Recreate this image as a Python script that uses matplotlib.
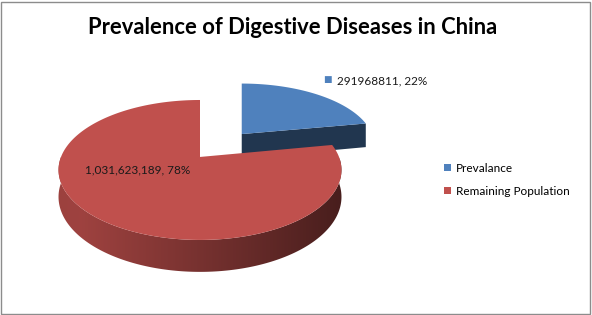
import numpy as np
import matplotlib
matplotlib.use("Agg")
import matplotlib.pyplot as plt
from matplotlib.patches import Patch, Rectangle, Polygon
from matplotlib.colors import to_rgb

# data
categories = ['Prevalance', 'Remaining Population']
values = [291968811, 1031623189]
use_commas = [False, True]
colors = ['#4F81BD', '#C0504D']
explode = [0.47, 0.0]

plt.rcParams['font.family'] = ['Lato', 'DejaVu Sans']

W, H = 592, 315
fig = plt.figure(figsize=(W / 100, H / 100), dpi=100)

ax = fig.add_axes([12.35 / W, 26 / H, 375.3 / W, 236.3 / H])
# let pie work out the slice angles / explode offsets, then redraw them in 3D
wedges, _ = ax.pie(values, colors=colors, startangle=90, counterclock=False,
                   explode=explode, wedgeprops=dict(linewidth=0))

k = 0.186      # perspective strength
tilt = 0.486   # vertical squash of the ground plane
depth = 0.187  # thickness


def proj(x, y, z, xc):
    s = 1.0 / (1.0 + k * y)
    return xc + (x - xc) * s, y * s * tilt - depth * (1 - z) * s


def shade(base, f):
    r, g, b = to_rgb(base)
    return (min(r * f, 1), min(g * f, 1), min(b * f, 1))


def rim_factor(X):
    return 0.62 - 0.24 * X - 0.3 * max(0.0, -0.85 - X)


order = sorted(range(len(wedges)), key=lambda i: -explode[i])
zc = 1
for i in order:
    w = wedges[i]
    cx, cy = w.center
    t1, t2 = np.radians(w.theta1), np.radians(w.theta2)
    w.remove()
    ts = np.linspace(t1, t2, 400)

    # radial cut faces
    for ang, normal in [(t1, t1 - np.pi / 2), (t2, t2 + np.pi / 2)]:
        if np.sin(normal) < -0.01:
            ex, ey = cx + np.cos(ang), cy + np.sin(ang)
            pts = [proj(cx, cy, 1, cx), proj(ex, ey, 1, cx), proj(ex, ey, 0, cx), proj(cx, cy, 0, cx)]
            ax.add_patch(Polygon(pts, closed=True, facecolor=shade(colors[i], 0.42),
                                 edgecolor='none', zorder=zc))

    # front rim with shading gradient
    vis = np.sin(ts) < 0
    if vis.any():
        tv = ts[vis]
        top = [proj(cx + np.cos(t), cy + np.sin(t), 1, cx) for t in tv]
        bot = [proj(cx + np.cos(t), cy + np.sin(t), 0, cx) for t in tv[::-1]]
        rim = Polygon(top + bot, closed=True, facecolor='none', edgecolor='none', zorder=zc)
        ax.add_patch(rim)
        xs = np.linspace(-1.4, 1.4, 600)
        grad = np.array([shade(colors[i], rim_factor(X)) for X in xs])
        im = ax.imshow(grad[np.newaxis, :, :], extent=[-1.4, 1.4, -1.2, 1.0],
                       aspect='auto', zorder=zc, interpolation='bilinear')
        im.set_clip_path(rim)

    # top surface
    arc = [proj(cx + np.cos(t), cy + np.sin(t), 1, cx) for t in ts]
    ax.add_patch(Polygon([proj(cx, cy, 1, cx)] + arc, closed=True, facecolor=colors[i],
                         edgecolor='none', zorder=zc + 1))
    zc += 2

ax.set_aspect('auto')
ax.set_xlim(-1.35, 1.35)
ax.set_ylim(-0.95, 0.75)
ax.axis('off')

# data labels
total = sum(values)
lab = []
for v, c in zip(values, use_commas):
    num = f"{v:,}" if c else f"{v}"
    lab.append(f"{num}, {round(100 * v / total)}%")

ax.text(0.986, 0.547, lab[0], fontsize=8.5, ha='left', va='center', color='#1a1a1a', zorder=10)
ax.text(0.917, 0.555, '■', fontsize=6.5, ha='center', va='center', color=colors[0],
        family='DejaVu Sans', zorder=10)
ax.text(-0.446, -0.094, lab[1], fontsize=8.5, ha='center', va='center', color='#1a1a1a', zorder=10)

fig.text(293 / W, 1 - 28 / H, 'Prevalence of Digestive Diseases in China',
         fontsize=15.8, fontweight='bold', ha='center', va='center')

handles = [Patch(facecolor=c, edgecolor='none') for c in colors]
fig.legend(handles, categories, loc='upper left', bbox_to_anchor=(439 / W, 1 - 158 / H),
           frameon=False, fontsize=8.5, handlelength=0.6, handleheight=0.6,
           handletextpad=0.4, labelspacing=1.0, borderaxespad=0)

fig.patches.append(Rectangle((0.5 / W, 1.5 / H), (W - 3) / W, (H - 3) / H, transform=fig.transFigure,
                             fill=False, edgecolor='#8C8C8C', linewidth=1))

fig.savefig('out.png', dpi=100)
